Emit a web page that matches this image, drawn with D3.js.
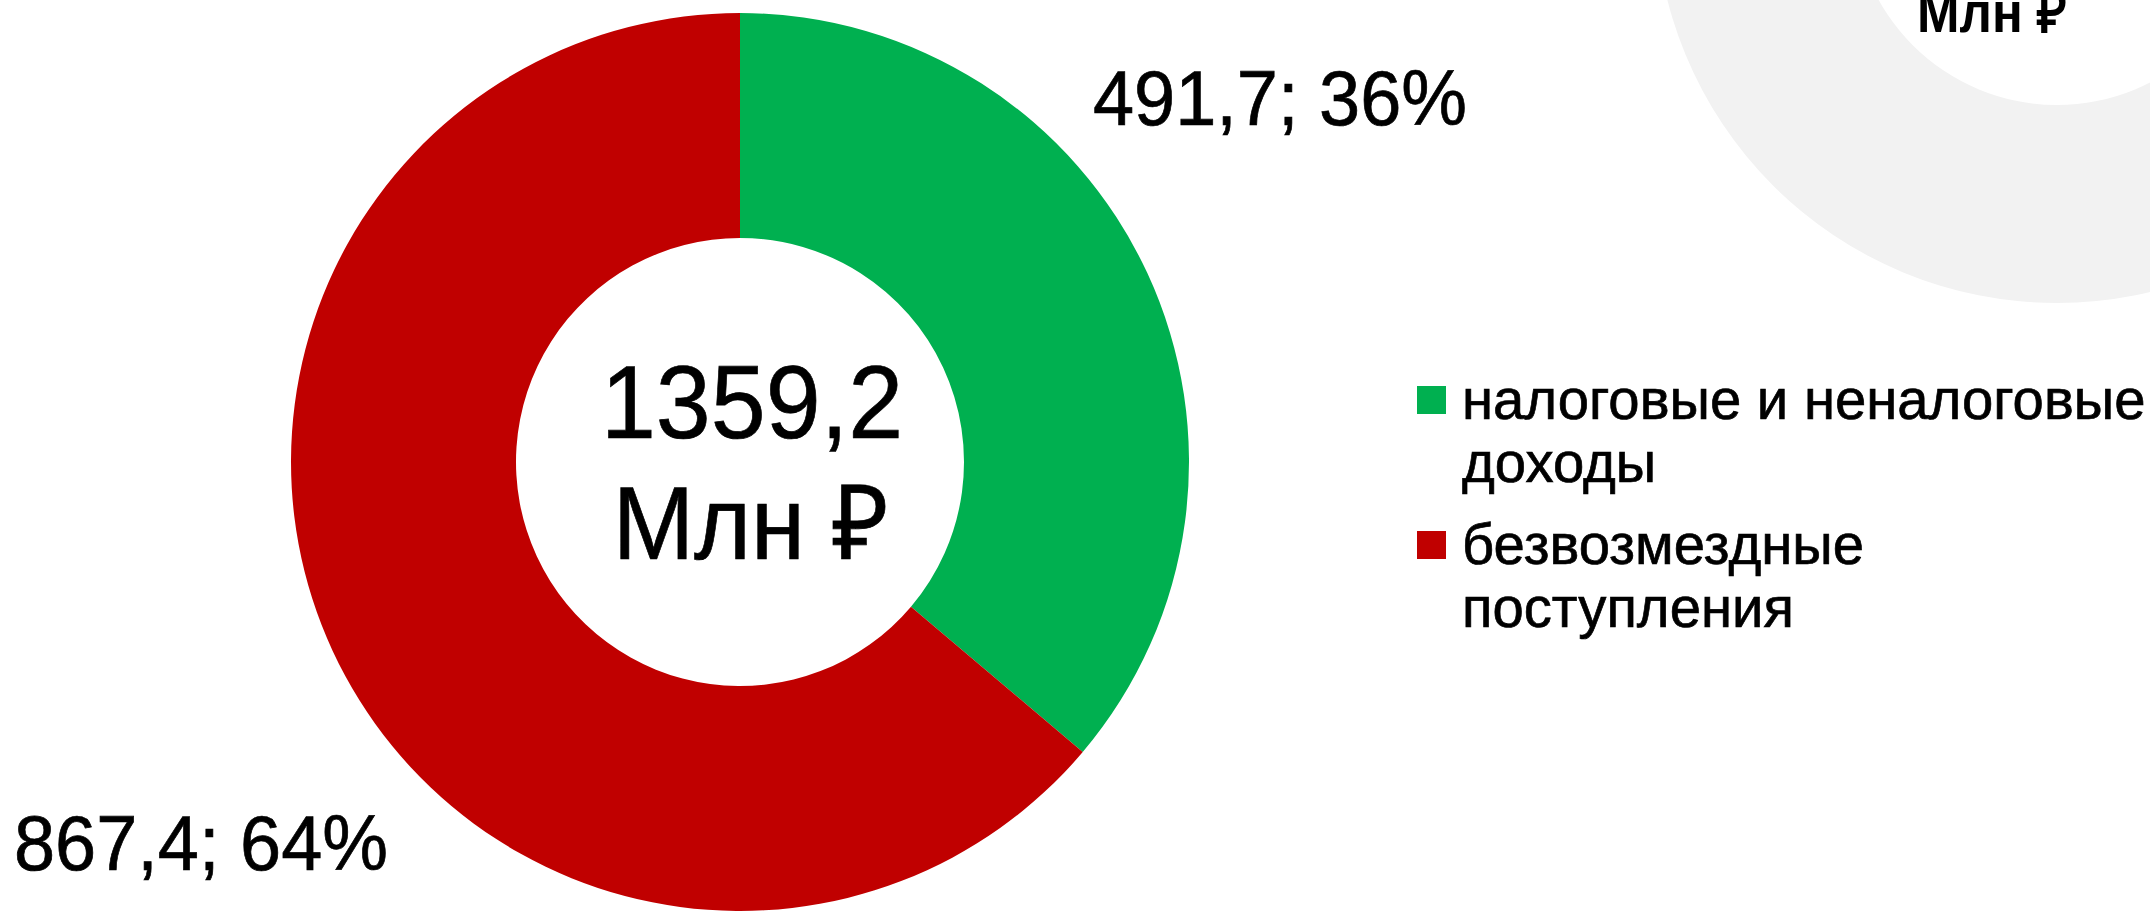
<!DOCTYPE html>
<html>
<head>
<meta charset="utf-8">
<script src="https://cdn.jsdelivr.net/npm/d3@7"></script>
<style>
  html, body { margin: 0; padding: 0; background: #ffffff; }
  svg { display: block; }
  text { font-family: "Liberation Sans", Arial, sans-serif; fill: #000; stroke: #000; stroke-width: 0.7px; }
</style>
</head>
<body>
<svg id="chart" width="2150" height="911"></svg>
<script>
// ---- data ----
const categories = ["налоговые и неналоговые доходы", "безвозмездные поступления"];
const legendLines = [["налоговые и неналоговые", "доходы"], ["безвозмездные", "поступления"]];
const values = [491.7, 867.4];
const colors = ["#00B050", "#C00000"];
const totalValue = 1359.2;
const unitLabel = "Млн ₽";

// ---- setup ----
const svg = d3.select("#chart");
const ru = d3.formatLocale({decimal: ",", thousands: "\u00a0", grouping: [3], currency: ["", " ₽"]});
const fmt1 = ru.format(".1f");
const total = d3.sum(values);
const pct = v => Math.round(v / total * 100) + "%";

// text helper: horizontally condensed text like the reference rendering
function addText(parent, x, y, size, anchor, sx, str, weight) {
  return parent.append("text")
    .attr("transform", `translate(${x},${y}) scale(${sx},1)`)
    .attr("text-anchor", anchor)
    .attr("font-size", size)
    .attr("font-weight", weight || "normal")
    .text(str);
}

// ---- background grey ring (part of a neighbouring chart, clipped at the top) ----
const gRing = svg.append("g").attr("transform", "translate(2057,-99)");
gRing.append("path")
  .attr("d", d3.arc().innerRadius(204).outerRadius(402).startAngle(0).endAngle(2 * Math.PI)())
  .attr("fill", "#F2F2F2");
addText(svg, 1992, 32, 58, "middle", 0.88, unitLabel, "bold").style("stroke-width", "0px");

// ---- main donut ----
const cx = 740, cy = 462, R = 449, r = 224;
const pie = d3.pie().sort(null).value(d => d)(values);
const arc = d3.arc().innerRadius(r).outerRadius(R);
const g = svg.append("g").attr("transform", `translate(${cx},${cy})`);
g.selectAll("path").data(pie).join("path")
  .attr("d", arc)
  .attr("fill", (d, i) => colors[i]);

// centre text
addText(g, 12, -24, 104, "middle", 0.95, fmt1(totalValue));
addText(g, 11, 97, 104, "middle", 0.94, unitLabel);

// data labels
const labelPos = [[1093, 125], [14, 870]];
values.forEach((v, i) => {
  addText(svg, labelPos[i][0], labelPos[i][1], 77, "start", 0.96, fmt1(v) + "; " + pct(v));
});

// ---- legend ----
const legend = svg.append("g").attr("transform", "translate(1417,386)");
const itemY = [0, 145];
legendLines.forEach((lines, i) => {
  const it = legend.append("g").attr("transform", `translate(0,${itemY[i]})`);
  it.append("rect").attr("width", 29).attr("height", 28).attr("fill", colors[i]);
  const t = it.append("text")
    .attr("transform", "translate(45,33) scale(0.97,1)")
    .attr("font-size", 58);
  lines.forEach((ln, j) => {
    t.append("tspan").attr("x", 0).attr("dy", j === 0 ? 0 : 63).text(ln);
  });
});
</script>
</body>
</html>
